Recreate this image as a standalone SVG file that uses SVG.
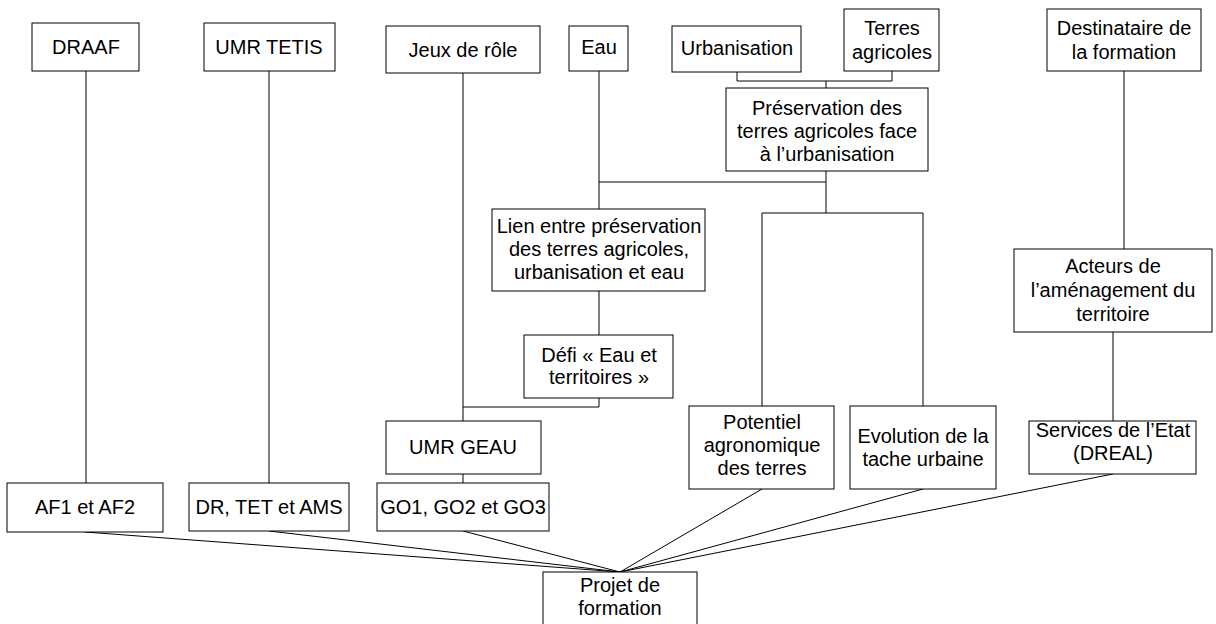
<svg xmlns="http://www.w3.org/2000/svg" width="1216" height="624" viewBox="0 0 1216 624">
<style>
rect{fill:#fff;stroke:#000;stroke-width:1}
text{font-family:"Liberation Sans",Arial,sans-serif;font-size:20px;fill:#000;text-anchor:middle}
.c path,.c line{fill:none;stroke:#000;stroke-width:1}
</style>
<rect x="0" y="0" width="1216" height="624" style="stroke:none"/>
<g class="c" id="connectors">
<line x1="86" y1="71" x2="86" y2="483"/>
<line x1="269" y1="71" x2="269" y2="483"/>
<line x1="463" y1="73" x2="463" y2="421"/>
<line x1="463" y1="474" x2="463" y2="483"/>
<path d="M599 71V209M599 182H826"/>
<line x1="599" y1="291" x2="599" y2="335"/>
<path d="M599 398V407H463"/>
<path d="M737 72V81H892V70M826 81V88"/>
<path d="M826 171V213M762 406V213H923V406"/>
<line x1="1124" y1="71" x2="1124" y2="249"/>
<line x1="1113" y1="332" x2="1113" y2="421"/>
<path d="M85 532L620 572M269 531L620 572M463 531L620 572M762 489L620 572M923 489L620 572M1113 474L620 572"/>
</g>
<g id="draaf"><rect x="32" y="23" width="107" height="48"/><text x="86" y="54">DRAAF</text></g>
<g id="tetis"><rect x="204" y="23" width="131" height="48"/><text x="269" y="54">UMR TETIS</text></g>
<g id="jeux"><rect x="386" y="26" width="154" height="47"/><text x="463" y="57">Jeux de rôle</text></g>
<g id="eau"><rect x="569" y="26" width="59" height="45"/><text x="599" y="54">Eau</text></g>
<g id="urbanisation"><rect x="672" y="26" width="129" height="46"/><text x="737" y="55">Urbanisation</text></g>
<g id="terres"><rect x="844" y="9" width="95" height="62"/><text x="892" y="35">Terres</text><text x="892" y="59">agricoles</text></g>
<g id="destinataire"><rect x="1047" y="9" width="154" height="62"/><text x="1124" y="35">Destinataire de</text><text x="1124" y="59">la formation</text></g>
<g id="preservation"><rect x="726" y="88" width="202" height="83"/><text x="827" y="115">Préservation des</text><text x="827" y="138">terres agricoles face</text><text x="827" y="161">à l’urbanisation</text></g>
<g id="lien"><rect x="492" y="209" width="213" height="82"/><text x="599" y="233">Lien entre préservation</text><text x="599" y="256">des terres agricoles,</text><text x="599" y="279">urbanisation et eau</text></g>
<g id="defi"><rect x="524" y="335" width="149" height="63"/><text x="599" y="362">Défi « Eau et</text><text x="599" y="384">territoires »</text></g>
<g id="acteurs"><rect x="1014" y="249" width="198" height="83"/><text x="1113" y="273">Acteurs de</text><text x="1113" y="297">l’aménagement du</text><text x="1113" y="321">territoire</text></g>
<g id="potentiel"><rect x="689" y="406" width="145" height="83"/><text x="762" y="429">Potentiel</text><text x="762" y="452">agronomique</text><text x="762" y="475">des terres</text></g>
<g id="evolution"><rect x="850" y="406" width="146" height="83"/><text x="923" y="443">Evolution de la</text><text x="923" y="466">tache urbaine</text></g>
<g id="services"><rect x="1029" y="421" width="167" height="53"/><text x="1113" y="437">Services de l’Etat</text><text x="1113" y="460">(DREAL)</text></g>
<g id="geau"><rect x="386" y="421" width="155" height="53"/><text x="463" y="454">UMR GEAU</text></g>
<g id="af"><rect x="7" y="483" width="156" height="49"/><text x="85" y="514">AF1 et AF2</text></g>
<g id="dr"><rect x="189" y="483" width="160" height="48"/><text x="269" y="514">DR, TET et AMS</text></g>
<g id="go"><rect x="377" y="483" width="172" height="48"/><text x="463" y="514">GO1, GO2 et GO3</text></g>
<g id="projet"><rect x="543" y="572" width="154" height="60"/><text x="620" y="592">Projet de</text><text x="620" y="615">formation</text></g>
</svg>
